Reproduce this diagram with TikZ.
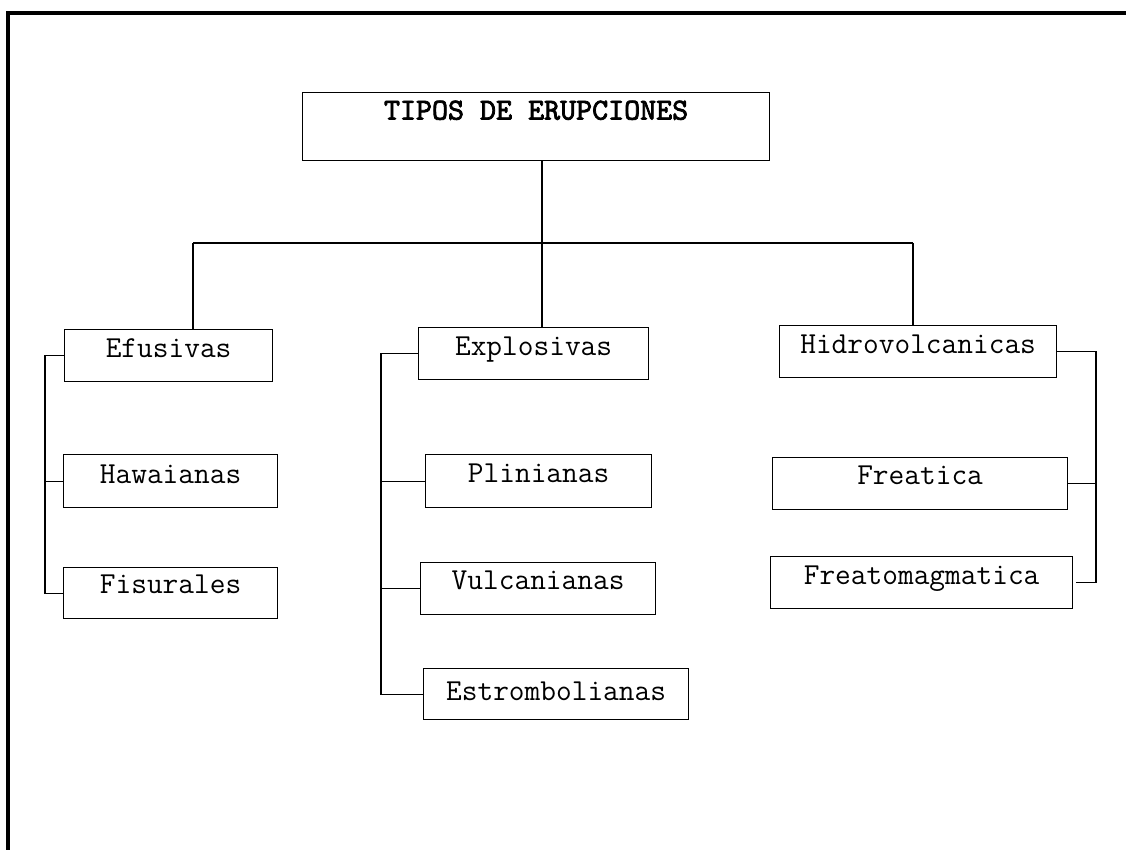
\documentclass[tikz,border=0pt]{standalone}
\usepackage{fontspec}
\newfontfamily\negrita[FakeBold=2.5]{lmmono10-regular.otf}
\begin{document}
\begin{tikzpicture}[
    x=1pt, y=-1pt,
    tipo/.style={rectangle, draw, line width=1.2pt, anchor=north west, inner sep=0pt,
                 font=\ttfamily\fontsize{30.5}{34}\selectfont},
    titulo/.style={tipo, font=\negrita\fontsize{30.5}{34}\selectfont},
    rama/.style={line width=1.2pt},
]
\useasboundingbox (0,0) rectangle (1126,850);

% Marco
\draw[line width=4pt] (8,850) -- (8,13) -- (1126,13);

% Nivel 0: titulo
\node[titulo, minimum width=467pt, text height=27pt, text depth=41pt] (tit) at (302,92) {TIPOS DE ERUPCIONES};

% Nivel 1: tres grupos
\node[tipo, minimum width=208pt, text height=28pt, text depth=24pt] (efu) at (64,329) {Efusivas};
\node[tipo, minimum width=230pt, text height=28pt, text depth=24pt] (exp) at (418,327) {Explosivas};
\node[tipo, minimum width=277pt, text height=28pt, text depth=24pt] (hid) at (779,325) {Hidrovolcanicas};

% Nivel 2: efusivas
\node[tipo, minimum width=214pt, text height=29pt, text depth=24pt] (haw) at (63,454) {Hawaianas};
\node[tipo, minimum width=214pt, text height=26pt, text depth=25pt] (fis) at (63,567) {Fisurales};

% Nivel 2: explosivas
\node[tipo, minimum width=226pt, text height=28pt, text depth=25pt] (pli) at (425,454) {Plinianas};
\node[tipo, minimum width=235pt, text height=27pt, text depth=25pt] (vul) at (420,562) {Vulcanianas};
\node[tipo, minimum width=265pt, text height=32pt, text depth=19pt] (est) at (423,668) {Estrombolianas};

% Nivel 2: hidrovolcanicas
\node[tipo, minimum width=295pt, text height=27pt, text depth=25pt] (fre) at (772,457) {Freatica};
\node[tipo, minimum width=302pt, text height=28pt, text depth=24pt] (fmg) at (770,556) {Freatomagmatica};

% Puntos de union
\coordinate (cen) at (542,243);
\coordinate (izq) at (193,243);
\coordinate (der) at (913,243);
\coordinate (bi) at (45,0);
\coordinate (bc) at (381,0);
\coordinate (bd) at (1096,0);

% Ramas del titulo
\draw[rama] (tit.south -| cen) -- (cen);
\draw[rama] (izq) -- (der);
\draw[rama] (izq) -- (efu.north -| izq);
\draw[rama] (cen) -- (exp.north -| cen);
\draw[rama] (der) -- (hid.north -| der);

% Ramas de efusivas
\draw[rama] (efu.west) -- (efu.west -| bi) -- (fis.west -| bi) -- (fis.west);
\draw[rama] (haw.west -| bi) -- (haw.west);

% Ramas de explosivas
\draw[rama] (exp.west) -- (exp.west -| bc) -- (est.west -| bc) -- (est.west);
\draw[rama] (pli.west -| bc) -- (pli.west);
\draw[rama] (vul.west -| bc) -- (vul.west);

% Ramas de hidrovolcanicas
\draw[rama] (hid.east) -- (hid.east -| bd) -- (fmg.east -| bd) -- ([xshift=3pt]fmg.east);
\draw[rama] (fre.east -| bd) -- (fre.east);

\end{tikzpicture}
\end{document}
